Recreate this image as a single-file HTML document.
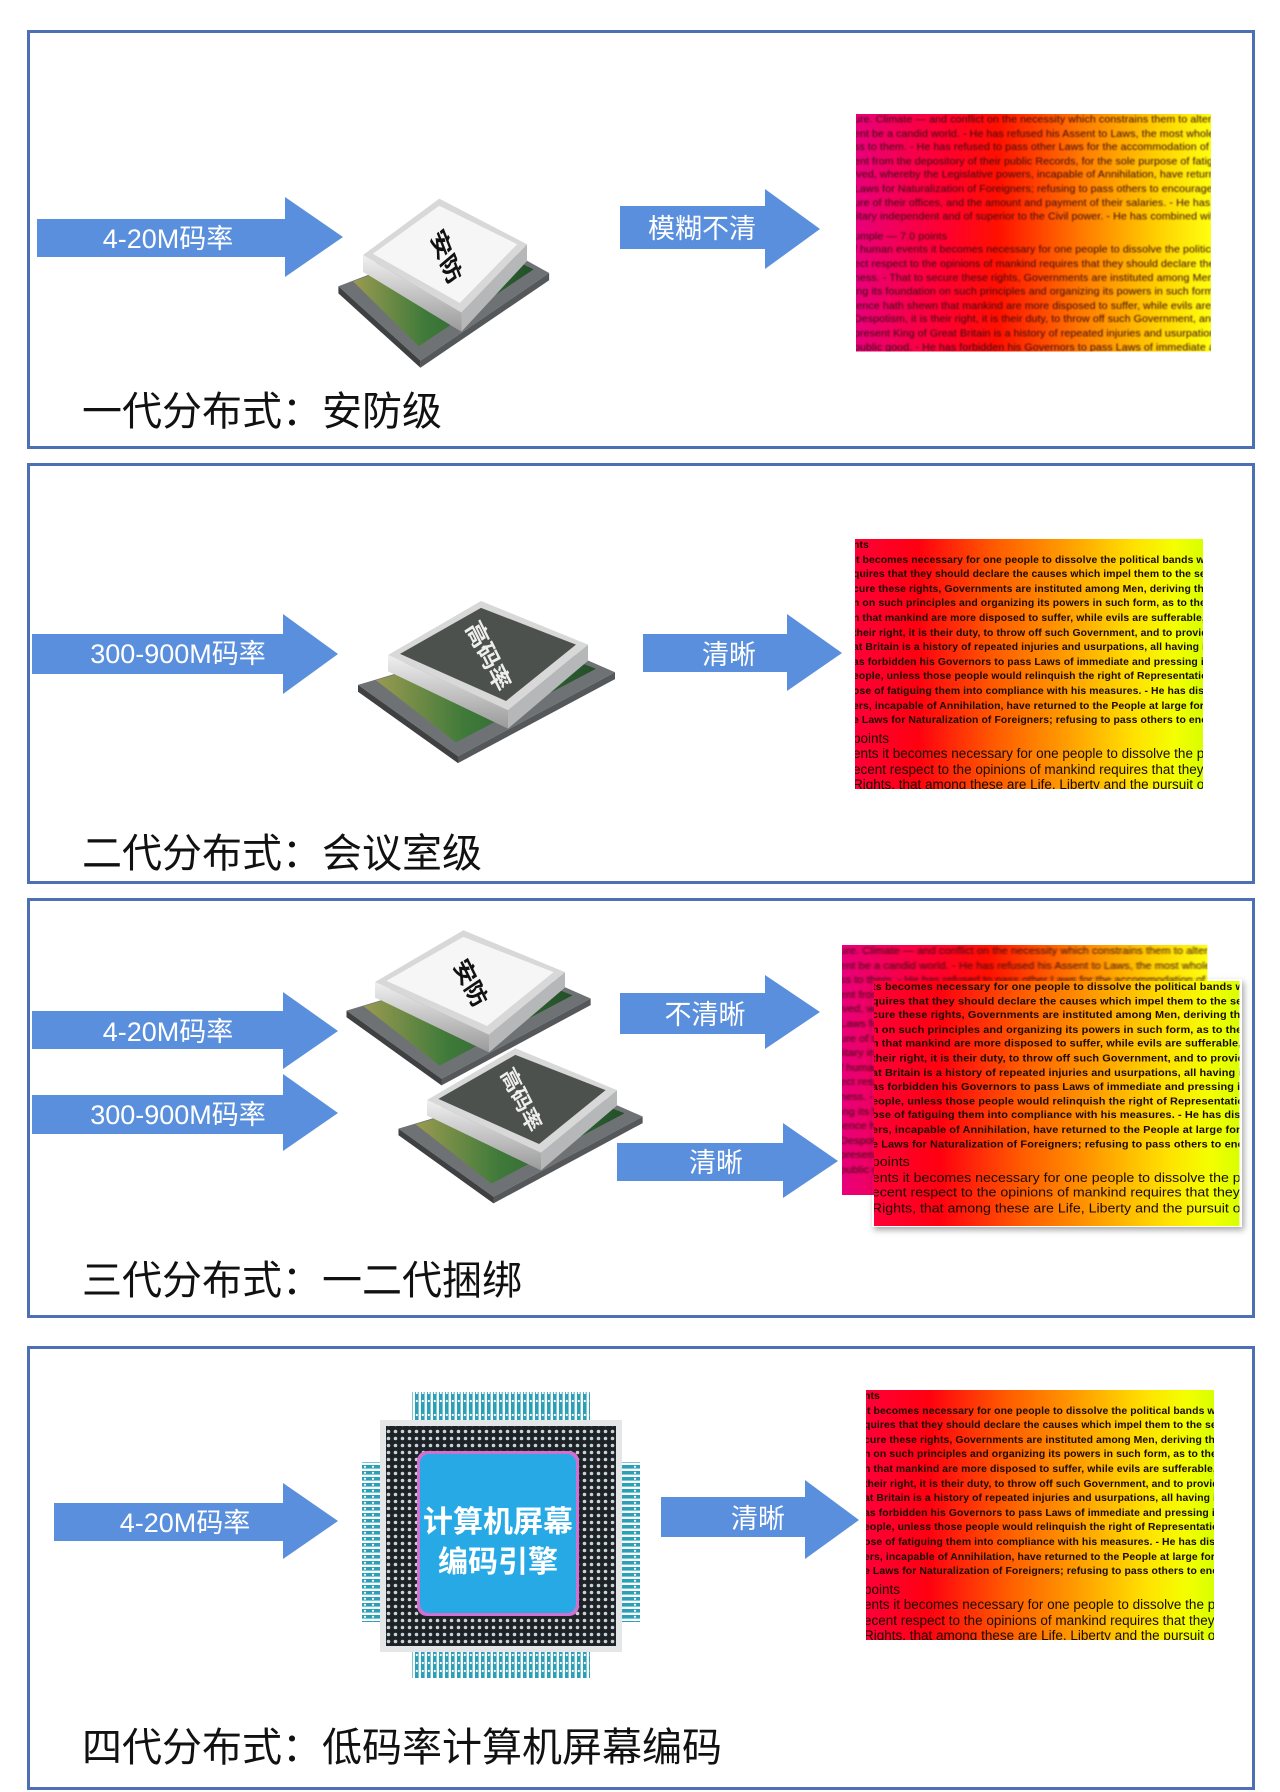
<!DOCTYPE html>
<html><head><meta charset="utf-8"><style>
*{margin:0;padding:0;box-sizing:border-box}
body{width:1280px;height:1792px;background:#fff;position:relative;overflow:hidden;font-family:"Liberation Sans","Noto Sans CJK SC",sans-serif}
.panel{position:absolute;left:27px;width:1228px;border:3px solid #4d6fb3;background:#fff}
.title{position:absolute;left:82px;font-size:40px;color:#111;font-family:"Noto Sans CJK SC",sans-serif;line-height:1}
.tx{position:absolute;width:348px;height:250px;overflow:hidden;transform-origin:0 0;
background:linear-gradient(90deg,#ff0038 0%,#ff0010 18%,#ff5a00 40%,#ff9a00 60%,#ffe000 80%,#f4ff00 92%,#d8ff00 100%);
font-family:"Liberation Sans",sans-serif;color:#1a0a00;white-space:nowrap}
.tx .s{font-size:10.4px;line-height:14.6px;font-weight:bold;letter-spacing:0.1px;margin-left:-2px}
.tx .b{font-size:13.5px;line-height:15.5px;margin-left:-2px}
.tx.blur{background:linear-gradient(90deg,#e8007a 0%,#ff0030 25%,#ff1000 40%,#ff8000 65%,#ffd000 85%,#ffff10 100%)}
.tx.blur .s,.tx.blur .b{filter:blur(0.9px);color:#3a0a10;font-weight:normal}
svg{position:absolute;left:0;top:0}
</style></head><body>

<div class="panel" style="top:30px;height:419px"></div>
<div class="panel" style="top:463px;height:421px"></div>
<div class="panel" style="top:898px;height:420px"></div>
<div class="panel" style="top:1346px;height:444px"></div>

<div class="tx blur" style="left:856px;top:114px;transform:scale(1.02,0.95)">
<div class="s">ure. Climate — and conflict on the necessity which constrains them to alter their form</div>
<div class="s">ent be a candid world. - He has refused his Assent to Laws, the most wholesome and</div>
<div class="s">ss to them. - He has refused to pass other Laws for the accommodation of large dist</div>
<div class="s">ent from the depository of their public Records, for the sole purpose of fatiguing them</div>
<div class="s">lved, whereby the Legislative powers, incapable of Annihilation, have returned to the</div>
<div class="s">Laws for Naturalization of Foreigners; refusing to pass others to encourage their migr</div>
<div class="s">ure of their offices, and the amount and payment of their salaries. - He has erected</div>
<div class="s">litary independent and of superior to the Civil power. - He has combined with others</div>
<div class="s" style="margin-top:6px">umple — 7.0 points</div>
<div class="s">f human events it becomes necessary for one people to dissolve the political</div>
<div class="s">ect respect to the opinions of mankind requires that they should declare the causes which impel them</div>
<div class="s">ness. - That to secure these rights, Governments are instituted among Men, de</div>
<div class="s">ing its foundation on such principles and organizing its powers in such form, a</div>
<div class="s">ience hath shewn that mankind are more disposed to suffer, while evils are suf</div>
<div class="s">Despotism, it is their right, it is their duty, to throw off such Government, and t</div>
<div class="s">present King of Great Britain is a history of repeated injuries and usurpations, al</div>
<div class="s">public good. - He has forbidden his Governors to pass Laws of immediate and pr</div>
<div class="s">ge districts of people, unless those people would relinquish the right of Repre</div>
</div>

<div class="tx" style="left:855px;top:539px">
<div class="s">nts</div>
<div class="s">it becomes necessary for one people to dissolve the political bands which</div>
<div class="s">quires that they should declare the causes which impel them to the separation</div>
<div class="s">cure these rights, Governments are instituted among Men, deriving their</div>
<div class="s">n on such principles and organizing its powers in such form, as to them</div>
<div class="s">n that mankind are more disposed to suffer, while evils are sufferable, th</div>
<div class="s">their right, it is their duty, to throw off such Government, and to provide</div>
<div class="s">at Britain is a history of repeated injuries and usurpations, all having in</div>
<div class="s">as forbidden his Governors to pass Laws of immediate and pressing imp</div>
<div class="s">eople, unless those people would relinquish the right of Representation</div>
<div class="s">ose of fatiguing them into compliance with his measures. - He has diss</div>
<div class="s">ers, incapable of Annihilation, have returned to the People at large for</div>
<div class="s">e Laws for Naturalization of Foreigners; refusing to pass others to encou</div>
<div class="b" style="margin-top:2px">points</div>
<div class="b">ents it becomes necessary for one people to dissolve the pol</div>
<div class="b">ecent respect to the opinions of mankind requires that they sh</div>
<div class="b">Rights, that among these are Life, Liberty and the pursuit of H</div>
</div>

<div class="tx blur" style="left:842px;top:945px;transform:scale(1.05,1)">
<div class="s">ure. Climate — and conflict on the necessity which constrains them to alter their form</div>
<div class="s">ent be a candid world. - He has refused his Assent to Laws, the most wholesome and</div>
<div class="s">ss to them. - He has refused to pass other Laws for the accommodation of large dist</div>
<div class="s">ent from the depository of their public Records, for the sole purpose of fatiguing</div>
<div class="s">lved, whereby the Legislative powers, incapable of Annihilation, have returned</div>
<div class="s">Laws for Naturalization of Foreigners; refusing to pass others to encourage</div>
<div class="s">ure of their offices, and the amount and payment of their salaries.</div>
<div class="s">litary independent and of superior to the Civil power.</div>
<div class="s">f human events it becomes necessary for one people</div>
<div class="s">ect respect to the opinions of mankind requires</div>
<div class="s">ness. - That to secure these rights, Governments</div>
<div class="s">ing its foundation on such principles and organizing</div>
<div class="s">ience hath shewn that mankind are more disposed</div>
<div class="s">Despotism, it is their right, it is their duty</div>
<div class="s">present King of Great Britain is a history</div>
<div class="s">public good. - He has forbidden his Governors</div>
</div>
<div style="position:absolute;left:872px;top:979px;width:370px;height:248px;box-shadow:2px 3px 6px rgba(0,0,0,.35)"></div>
<div class="tx" style="left:874px;top:981px;transform:scale(1.05,0.98)">
<div class="s">ts becomes necessary for one people to dissolve the political bands which</div>
<div class="s">quires that they should declare the causes which impel them to the separation</div>
<div class="s">cure these rights, Governments are instituted among Men, deriving their</div>
<div class="s">n on such principles and organizing its powers in such form, as to them</div>
<div class="s">n that mankind are more disposed to suffer, while evils are sufferable, th</div>
<div class="s">their right, it is their duty, to throw off such Government, and to provide</div>
<div class="s">at Britain is a history of repeated injuries and usurpations, all having in</div>
<div class="s">as forbidden his Governors to pass Laws of immediate and pressing imp</div>
<div class="s">eople, unless those people would relinquish the right of Representation</div>
<div class="s">ose of fatiguing them into compliance with his measures. - He has diss</div>
<div class="s">ers, incapable of Annihilation, have returned to the People at large for</div>
<div class="s">e Laws for Naturalization of Foreigners; refusing to pass others to encou</div>
<div class="b" style="margin-top:2px">points</div>
<div class="b">ents it becomes necessary for one people to dissolve the pol</div>
<div class="b">ecent respect to the opinions of mankind requires that they sh</div>
<div class="b">Rights, that among these are Life, Liberty and the pursuit of H</div>
</div>

<div class="tx" style="left:866px;top:1390px">
<div class="s">nts</div>
<div class="s">it becomes necessary for one people to dissolve the political bands which</div>
<div class="s">quires that they should declare the causes which impel them to the separation</div>
<div class="s">cure these rights, Governments are instituted among Men, deriving their</div>
<div class="s">n on such principles and organizing its powers in such form, as to them</div>
<div class="s">n that mankind are more disposed to suffer, while evils are sufferable, th</div>
<div class="s">their right, it is their duty, to throw off such Government, and to provide</div>
<div class="s">at Britain is a history of repeated injuries and usurpations, all having in</div>
<div class="s">as forbidden his Governors to pass Laws of immediate and pressing imp</div>
<div class="s">eople, unless those people would relinquish the right of Representation</div>
<div class="s">ose of fatiguing them into compliance with his measures. - He has diss</div>
<div class="s">ers, incapable of Annihilation, have returned to the People at large for</div>
<div class="s">e Laws for Naturalization of Foreigners; refusing to pass others to encou</div>
<div class="b" style="margin-top:2px">points</div>
<div class="b">ents it becomes necessary for one people to dissolve the pol</div>
<div class="b">ecent respect to the opinions of mankind requires that they sh</div>
<div class="b">Rights, that among these are Life, Liberty and the pursuit of H</div>
</div>

<svg width="1280" height="1792" viewBox="0 0 1280 1792">
<defs>
<linearGradient id="silver" x1="0" y1="0" x2="0" y2="1"><stop offset="0" stop-color="#f0f0f0"/><stop offset="1" stop-color="#9a9a9a"/></linearGradient>
<linearGradient id="board" x1="0" y1="0" x2="1" y2="0"><stop offset="0" stop-color="#9a9a50"/><stop offset=".4" stop-color="#3f7a3a"/><stop offset="1" stop-color="#234f2a"/></linearGradient>
<pattern id="dots" width="7" height="7" patternUnits="userSpaceOnUse"><rect width="7" height="7" fill="#1d2226"/><circle cx="3.5" cy="3.5" r="1.8" fill="#c9d2d6"/></pattern>
<pattern id="pinsV" width="6" height="30" patternUnits="userSpaceOnUse"><rect width="6" height="30" fill="#fff"/><rect x="1" width="3.6" height="30" fill="#2aa0b8"/><circle cx="2.8" cy="5" r="1.1" fill="#fff"/><circle cx="2.8" cy="13" r="1.1" fill="#fff"/><circle cx="2.8" cy="21" r="1.1" fill="#fff"/></pattern>
<pattern id="pinsH" width="30" height="6" patternUnits="userSpaceOnUse"><rect width="30" height="6" fill="#fff"/><rect y="1" width="30" height="3.6" fill="#2aa0b8"/><circle cy="2.8" cx="5" r="1.1" fill="#fff"/><circle cy="2.8" cx="13" r="1.1" fill="#fff"/><circle cy="2.8" cx="21" r="1.1" fill="#fff"/></pattern>
<g id="chipbase">
<polygon points="-130,26 40,-18 127,15 -30,88" fill="#6f7274"/>
<polygon points="-130,26 -30,88 -30,94 -130,32" fill="#3e4042"/>
<polygon points="-30,88 127,15 127,21 -30,94" fill="#55585a"/>
<polygon points="-112,22 30,-14 108,12 -32,76" fill="url(#board)"/>
<polygon points="-100,14 -7,-33 100,5 20,62" fill="#8a8d90"/>
<polygon points="-100,0 20,48 20,64 -100,14" fill="url(#silver)"/>
<polygon points="20,48 100,-9 100,5 20,64" fill="#b5b7b8"/>
<polygon points="-100,0 -7,-47 100,-9 20,48" fill="#d8d8d8"/>
</g>
</defs>

<g fill="#5a8fdd">
<polygon points="37,219 285,219 285,197 343,237 285,277 285,257 37,257"/>
<polygon points="620,206 765,206 765,189 820,229 765,269 765,249 620,249"/>
<polygon points="32,634 283,634 283,614 338,654 283,694 283,674 32,674"/>
<polygon points="643,634 787,634 787,614 842,653 787,691 787,672 643,672"/>
<polygon points="32,1011 283,1011 283,992 338,1031 283,1069 283,1049 32,1049"/>
<polygon points="32,1095 283,1095 283,1074 338,1113 283,1151 283,1134 32,1134"/>
<polygon points="620,993 765,993 765,975 820,1012 765,1049 765,1034 620,1034"/>
<polygon points="617,1143 783,1143 783,1123 838,1161 783,1198 783,1181 617,1181"/>
<polygon points="54,1503 283,1503 283,1483 338,1521 283,1559 283,1541 54,1541"/>
<polygon points="661,1497 805,1497 805,1480 859,1520 805,1559 805,1537 661,1537"/>
</g>
<g fill="#fff" font-family="Liberation Sans,Noto Sans CJK SC,sans-serif" font-size="27" text-anchor="middle">
<text x="168" y="248">4-20M码率</text>
<text x="702" y="238">模糊不清</text>
<text x="178" y="663">300-900M码率</text>
<text x="729" y="664">清晰</text>
<text x="168" y="1041">4-20M码率</text>
<text x="178" y="1124">300-900M码率</text>
<text x="705" y="1024">不清晰</text>
<text x="716" y="1172">清晰</text>
<text x="185" y="1532">4-20M码率</text>
<text x="758" y="1528">清晰</text>
</g>

<g transform="translate(445,255) scale(0.82,1.2)">
<use href="#chipbase"/>
<polygon points="-88,-1 -7,-41 88,-9 18,40" fill="#f6f6f6"/>
<text x="0" y="0" transform="rotate(60) translate(-22,8)" font-size="24" font-weight="bold" fill="#111" font-family="Noto Sans CJK SC,sans-serif">安防</text>
</g>
<g transform="translate(488,655) scale(1,1.15)">
<use href="#chipbase"/>
<polygon points="-88,-1 -7,-41 88,-9 18,40" fill="#4c514d"/>
<text x="0" y="0" transform="rotate(60) translate(-32,8)" font-size="22" font-weight="bold" fill="#eee" font-family="Noto Sans CJK SC,sans-serif">高码率</text>
</g>
<g transform="translate(470,982) scale(0.95,1.1)">
<use href="#chipbase"/>
<polygon points="-88,-1 -7,-41 88,-9 18,40" fill="#f6f6f6"/>
<text x="0" y="0" transform="rotate(60) translate(-22,8)" font-size="23" font-weight="bold" fill="#111" font-family="Noto Sans CJK SC,sans-serif">安防</text>
</g>
<g transform="translate(522,1100) scale(0.95,1.1)">
<use href="#chipbase"/>
<polygon points="-88,-1 -7,-41 88,-9 18,40" fill="#4c514d"/>
<text x="0" y="0" transform="rotate(60) translate(-32,8)" font-size="21" font-weight="bold" fill="#eee" font-family="Noto Sans CJK SC,sans-serif">高码率</text>
</g>

<rect x="412" y="1392" width="178" height="32" fill="url(#pinsV)"/>
<rect x="412" y="1646" width="178" height="32" fill="url(#pinsV)"/>
<rect x="362" y="1462" width="30" height="160" fill="url(#pinsH)"/>
<rect x="610" y="1462" width="30" height="160" fill="url(#pinsH)"/>
<rect x="380" y="1420" width="242" height="232" fill="#e4e6e8"/>
<rect x="386" y="1426" width="230" height="220" fill="url(#dots)"/>
<rect x="417" y="1451" width="162" height="165" rx="10" fill="#d070d0"/>
<rect x="420" y="1454" width="156" height="159" rx="9" fill="#27a9e6"/>
<g fill="#fff" font-family="Noto Sans CJK SC,sans-serif" font-weight="bold" font-size="30" text-anchor="middle">
<text x="498" y="1532">计算机屏幕</text>
<text x="498" y="1572">编码引擎</text>
</g>
</svg>

<div class="title" style="top:388px">一代分布式：安防级</div>
<div class="title" style="top:830px">二代分布式：会议室级</div>
<div class="title" style="top:1257px">三代分布式：一二代捆绑</div>
<div class="title" style="top:1724px">四代分布式：低码率计算机屏幕编码</div>
</body></html>
